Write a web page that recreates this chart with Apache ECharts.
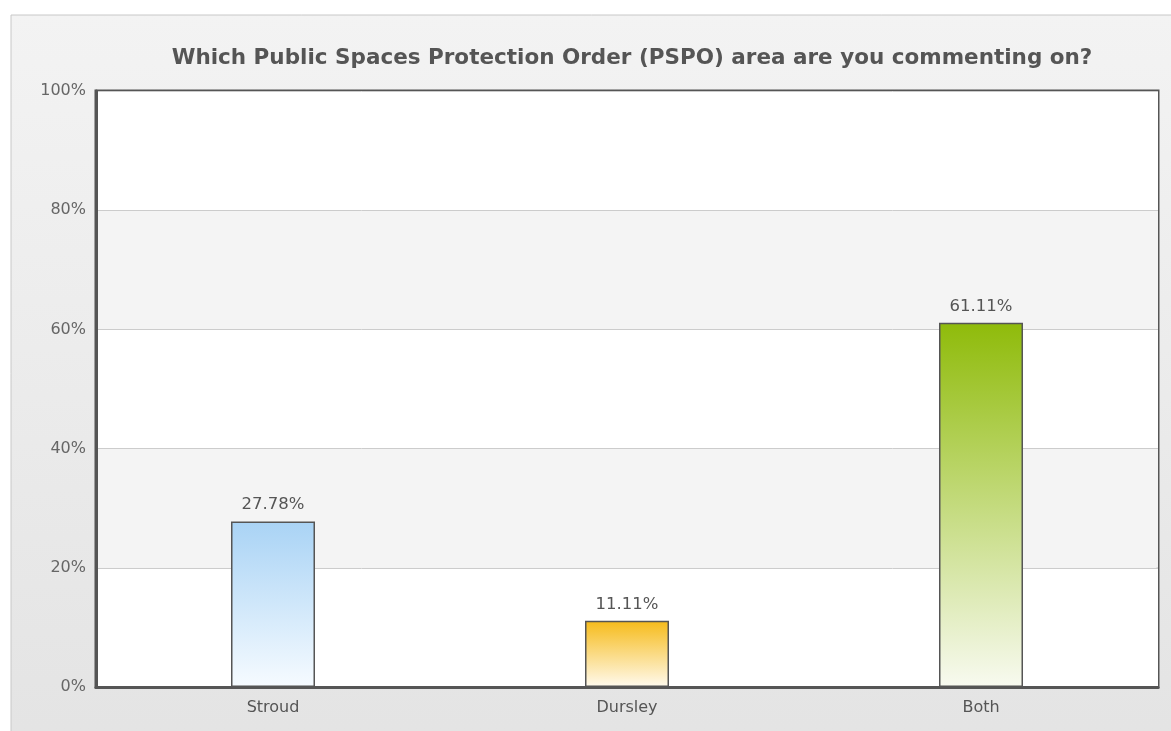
<!DOCTYPE html>
<html><head><meta charset="utf-8">
<script src="https://cdn.jsdelivr.net/npm/echarts@6/dist/echarts.min.js"></script>
<style>html,body{margin:0;padding:0;background:#fff}#c{width:1171px;height:731px}</style>
</head><body><div id="c"></div>
<script>
const titleText = 'Which Public Spaces Protection Order (PSPO) area are you commenting on?';
const categories = ['Stroud', 'Dursley', 'Both'];
const values = [27.78, 11.11, 61.11];
const yTicks = [0, 20, 40, 60, 80, 100];
const barColors = [
  ['#a9d3f5', '#f6fbff'],
  ['#f6bb1a', '#fffaee'],
  ['#8fbb0a', '#f8faf0']
];

const chart = echarts.init(document.getElementById('c'), null, {renderer: 'canvas'});
const FONT = 'DejaVu Sans, Verdana, sans-serif';
chart.setOption({
  animation: false,
  backgroundColor: '#fff',
  graphic: [{
    type: 'rect', z: -10, silent: true,
    shape: {x: 11, y: 15, width: 1200, height: 760},
    style: {
      fill: new echarts.graphic.LinearGradient(0, 0, 0, 1, [
        {offset: 0, color: '#f3f3f3'}, {offset: 1, color: '#e3e3e3'}
      ]),
      stroke: '#c8c8c8', lineWidth: 1
    }
  }],
  title: {
    text: titleText,
    left: 627, textAlign: 'center', top: 42,
    textStyle: {fontFamily: FONT, fontWeight: 'bold', fontSize: 21.5, color: '#555'}
  },
  grid: {
    left: 96, right: 13, top: 91, bottom: 44,
    show: true, borderColor: '#555', borderWidth: 3, backgroundColor: 'transparent'
  },
  xAxis: {
    type: 'category', data: categories,
    axisLine: {show: true, lineStyle: {color: '#555', width: 3}},
    axisTick: {show: false},
    axisLabel: {fontFamily: FONT, fontSize: 16, color: '#555', margin: 13}
  },
  yAxis: {
    type: 'value', min: 0, max: 100, interval: 20,
    axisLine: {show: true, lineStyle: {color: '#555', width: 3}},
    axisTick: {show: false},
    axisLabel: {fontFamily: FONT, fontSize: 16, color: '#666', margin: 10,
      formatter: v => yTicks.includes(v) ? v + '%' : ''},
    splitLine: {show: true, lineStyle: {color: '#cccccc', width: 1}},
    splitArea: {show: true, areaStyle: {color: ['#ffffff', '#f4f4f4']}}
  },
  series: [{
    type: 'bar',
    barWidth: 84,
    data: values.map((v, i) => ({
      value: v,
      itemStyle: {
        color: new echarts.graphic.LinearGradient(0, 0, 0, 1, [
          {offset: 0, color: barColors[i][0]}, {offset: 1, color: barColors[i][1]}
        ]),
        borderColor: '#555', borderWidth: 1.5
      }
    })),
    label: {
      show: true, position: 'top', distance: 8,
      fontFamily: FONT, fontSize: 16.5, color: '#555',
      formatter: p => p.value.toFixed(2) + '%'
    }
  }]
});
</script></body></html>
